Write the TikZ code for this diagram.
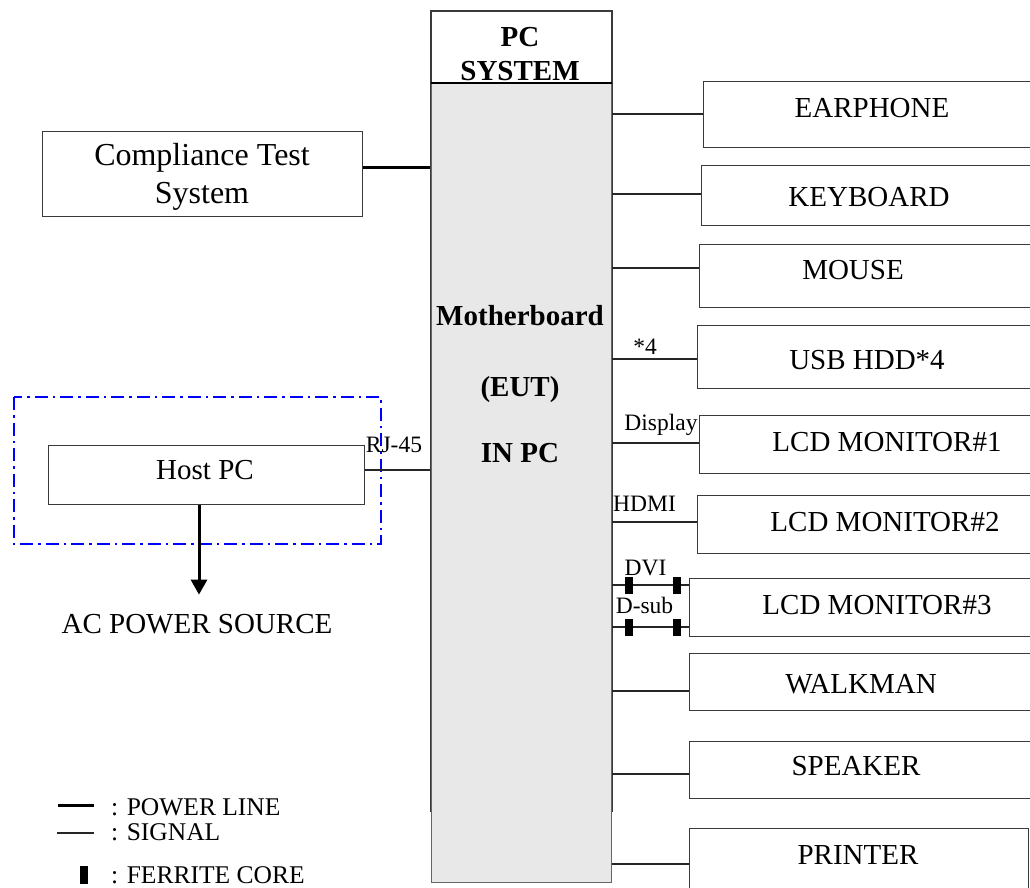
\documentclass[tikz,border=0pt]{standalone}
\usepackage{fontspec}
\setmainfont{Liberation Serif}
\usetikzlibrary{arrows.meta}
\definecolor{edge}{HTML}{3A3A3A}
\definecolor{board}{HTML}{E8E8E8}
\newcommand\devbox[5]{\node[devb, minimum width={(#4)-(#2)}, minimum height={(#5)-(#3)}, anchor=north west] (#1) at (#2,#3) {};}
\begin{document}
\begin{tikzpicture}[x=1pt,y=-1pt,
  devb/.style={draw=edge, line width=1.3pt, fill=white, rectangle, inner sep=0pt},
  lbl/.style={font=\fontsize{29}{34}\selectfont, inner sep=0pt, anchor=base},
  blbl/.style={font=\fontsize{29}{34}\selectfont\bfseries, inner sep=0pt, anchor=base},
  small/.style={font=\fontsize{23.5}{26}\selectfont, inner sep=0pt, anchor=base},
  legtxt/.style={font=\fontsize{25.5}{28}\selectfont, inner sep=0pt, anchor=base west},
  sig/.style={draw=black!85, line width=1.1pt},
  power/.style={draw=black, line width=3pt},
  ferrite/.style={fill=black, draw=none, rectangle, inner sep=0pt, minimum width=8pt, minimum height=17pt}]
\useasboundingbox (0,0) rectangle (1030,887);

% PC system enclosure and motherboard
\node[draw=edge, line width=1.8pt, fill=white, rectangle, inner sep=0pt, minimum width=181pt, minimum height=800pt, anchor=north west] (pcframe) at (430,10) {};
\node[draw=black!60, line width=1.2pt, fill=board, rectangle, inner sep=0pt, minimum width=180pt, minimum height=799pt, anchor=north west] (mb) at (431,83) {};
\draw[black, line width=1.1pt] (mb.north west) -- (mb.north east);
\node[blbl] (pct1) at (520,46.5) {PC};
\node[blbl] (pct2) at (520,80.5) {SYSTEM};
\node[blbl] (mbt1) at (520,325) {Motherboard};
\node[blbl] (mbt2) at (520,396.5) {(EUT)};
\node[blbl] (mbt3) at (520,462.5) {IN PC};

% peripherals on the right
\devbox{ear}{703}{81}{1045}{147}
\devbox{kbd}{701}{165}{1045}{225}
\devbox{mouse}{699}{244}{1045}{307}
\devbox{usb}{697}{325}{1045}{388}
\devbox{lcda}{699}{415}{1045}{473}
\devbox{lcdb}{697}{495}{1045}{553}
\devbox{lcdc}{689}{578}{1045}{636}
\devbox{walk}{689}{653}{1045}{710}
\devbox{spk}{689}{741}{1045}{798}
\devbox{prn}{689}{828}{1028}{900}

\node[lbl] (eart) at (872,117.6) {EARPHONE};
\node[lbl] (kbdt) at (869,206.6) {KEYBOARD};
\node[lbl] (mouset) at (853,279.6) {MOUSE};
\node[lbl] (usbt) at (867,369.6) {USB HDD*4};
\node[lbl] (lcdat) at (887,451.6) {LCD MONITOR\#1};
\node[lbl] (lcdbt) at (885,531.6) {LCD MONITOR\#2};
\node[lbl] (lcdct) at (877,614.6) {LCD MONITOR\#3};
\node[lbl] (walkt) at (861,693.6) {WALKMAN};
\node[lbl] (spkt) at (856,775.6) {SPEAKER};
\node[lbl] (prnt) at (858,864.6) {PRINTER};

% signal cables to the peripherals
\draw[sig] (mb.east |- 0,114) -- (ear.west |- 0,114);
\draw[sig] (mb.east |- 0,194) -- (kbd.west |- 0,194);
\draw[sig] (mb.east |- 0,268) -- (mouse.west |- 0,268);
\draw[sig] (mb.east |- 0,359) -- (usb.west |- 0,359);
\draw[sig] (mb.east |- 0,443) -- (lcda.west |- 0,443);
\draw[sig] (mb.east |- 0,522) -- (lcdb.west |- 0,522);
\draw[sig] (mb.east |- 0,585) -- (lcdc.west |- 0,585);
\draw[sig] (mb.east |- 0,627) -- (lcdc.west |- 0,627);
\draw[sig] (mb.east |- 0,691) -- (walk.west |- 0,691);
\draw[sig] (mb.east |- 0,774) -- (spk.west |- 0,774);
\draw[sig] (mb.east |- 0,864) -- (prn.west |- 0,864);

% ferrite cores on the DVI and D-sub cables
\node[ferrite] (fca) at (629,585) {};
\node[ferrite] (fcb) at (677,585) {};
\node[ferrite] (fcc) at (629,627) {};
\node[ferrite] (fcd) at (677,627) {};

% cable labels
\node[small] (n4) at (645,354) {*4};
\node[small] (ndisp) at (661,430.5) {Display};
\node[small] (nhdmi) at (644.5,511.7) {HDMI};
\node[small] (ndvi) at (645.5,575) {DVI};
\node[small] (ndsub) at (644.5,613.3) {D-sub};

% compliance test system
\devbox{cts}{42}{131}{362}{216}
\node[font=\fontsize{32}{36}\selectfont, inner sep=0pt, anchor=base] (ctst1) at (202,165) {Compliance Test};
\node[font=\fontsize{32}{36}\selectfont, inner sep=0pt, anchor=base] (ctst2) at (202,203.5) {System};
\draw[power] (cts.east |- 0,167) -- (pcframe.west |- 0,167);

% host PC with its support area
\draw[blue, line width=1.6pt, dash pattern=on 13pt off 5pt on 2.5pt off 5pt] (14,397) rectangle (381,544);
\devbox{host}{48}{445}{364}{504}
\node[lbl] (hostt) at (205,479.6) {Host PC};
\draw[sig] (host.east |- 0,470) -- (pcframe.west |- 0,470);
\node[small] (nrj) at (394,452.7) {RJ-45};
\node[lbl] (ac) at (197,633) {AC POWER SOURCE};
\draw[power, -{Triangle[width=16pt,length=15pt]}] (host.south -| 199,0) -- ([yshift=19pt]ac.north -| 199,0);

% legend
\coordinate (lpa) at (58,805);
\coordinate (lpb) at (94,805);
\draw[power] (lpa) -- (lpb);
\node[legtxt] (lpt) at (111,815) {: POWER LINE};
\coordinate (lsa) at (57,833);
\coordinate (lsb) at (94,833);
\draw[sig] (lsa) -- (lsb);
\node[legtxt] (lst) at (111,840) {: SIGNAL};
\node[ferrite, minimum height=18pt] (lfc) at (84,875) {};
\node[legtxt] (lft) at (111,883) {: FERRITE CORE};
\end{tikzpicture}
\end{document}
